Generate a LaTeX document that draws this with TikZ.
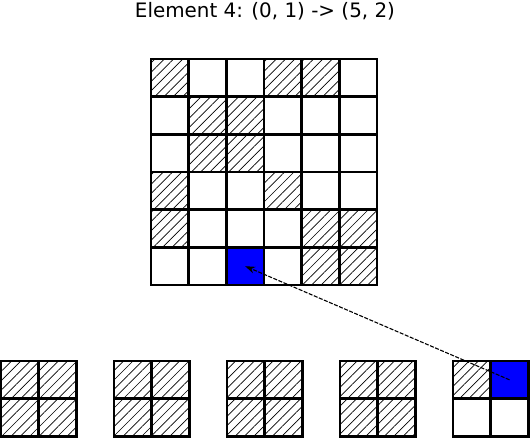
\documentclass[tikz,border=0pt]{standalone}
\usepackage{fontspec}
\setmainfont{DejaVu Sans}
\usetikzlibrary{patterns.meta,arrows.meta}
\tikzset{
  cellbox/.style={draw=black, line width=2.8pt, minimum size=37.67pt, inner sep=0pt, outer sep=0pt, rectangle},
  hatched/.style={cellbox, pattern={Lines[angle=45,distance=6.6pt,line width=0.7pt]}},
  target/.style={cellbox, fill=blue},
  link/.style={dash pattern=on 4pt off 1.5pt, line width=1.1pt, -{Stealth[length=10pt,width=7pt]}},
}
\begin{document}
\begin{tikzpicture}[x=1pt,y=-1pt]
\useasboundingbox (0,0) rectangle (530,438);
\node[anchor=base, font=\fontsize{19.9}{22}\selectfont] (title) at (265,17.5) {Element 4: (0, 1) -> (5, 2)};
% main grid
\def\cs{37.67}
\foreach \r in {0,...,5}{
  \foreach \c in {0,...,5}{
    \node[cellbox] (m-\r-\c) at ({151+(\c+0.5)*\cs},{59+(\r+0.5)*\cs}) {};
  }
}
\foreach \r/\c in {0/0,0/3,0/4,1/1,1/2,2/1,2/2,3/0,3/3,4/0,4/4,4/5,5/4,5/5}{
  \node[hatched] at (m-\r-\c) {};
}
\node[target] at (m-5-2) {};
% small grids
\foreach \k in {0,...,3}{
  \foreach \r in {0,1}{
    \foreach \c in {0,1}{
      \node[hatched] (s\k-\r-\c) at ({1+113*\k+(\c+0.5)*\cs},{361+(\r+0.5)*\cs}) {};
    }
  }
}
\node[hatched] (s4-0-0) at ({453+0.5*\cs},{361+0.5*\cs}) {};
\node[target] (s4-0-1) at ({453+1.5*\cs},{361+0.5*\cs}) {};
\node[cellbox] (s4-1-0) at ({453+0.5*\cs},{361+1.5*\cs}) {};
\node[cellbox] (s4-1-1) at ({453+1.5*\cs},{361+1.5*\cs}) {};
\draw[link] (s4-0-1.center) -- (m-5-2.center);
\end{tikzpicture}
\end{document}
